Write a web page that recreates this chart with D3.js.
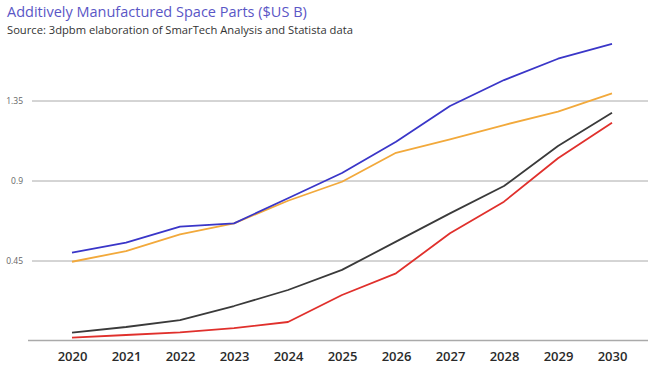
<!DOCTYPE html>
<html><head><meta charset="utf-8">
<script src="https://cdn.jsdelivr.net/npm/d3@7"></script>
<style>body{margin:0;background:#fff;}svg{display:block;}</style>
</head><body>
<script>
const years = [2020,2021,2022,2023,2024,2025,2026,2027,2028,2029,2030];
const blueSeries   = [0.494,0.55,0.64,0.659,0.80,0.942,1.118,1.319,1.465,1.585,1.668];
const orangeSeries = [0.443,0.503,0.597,0.659,0.786,0.893,1.056,1.132,1.212,1.287,1.39];
const blackSeries  = [0.044,0.076,0.115,0.194,0.284,0.397,0.556,0.715,0.869,1.094,1.281];
const redSeries    = [0.016,0.031,0.046,0.07,0.104,0.256,0.378,0.603,0.781,1.025,1.225];
const yTicks = [0.45,0.9,1.35];
const yTickLabels = ["0.45","0.9","1.35"];
const seriesList = [
  {name:"black", values:blackSeries, color:"#3a3a3a"},
  {name:"red", values:redSeries, color:"#e0302c"},
  {name:"orange", values:orangeSeries, color:"#f2a93b"},
  {name:"blue", values:blueSeries, color:"#3a36c8"}
];

const W=650,H=378;
const svg=d3.select("body").append("svg").attr("width",W).attr("height",H);
const x=d3.scalePoint().domain(years).range([72,612]);
const y=d3.scaleLinear().domain([0,1.35]).range([340.5,100.5]);

svg.append("text").attr("x",7).attr("y",16.5).text("Additively Manufactured Space Parts ($US B)")
  .attr("font-family","Open Sans, sans-serif").attr("font-size",14.5).attr("fill","#5a56c6");
svg.append("text").attr("x",7).attr("y",33.5).text("Source: 3dpbm elaboration of SmarTech Analysis and Statista data")
  .attr("font-family","Open Sans, sans-serif").attr("font-size",11.2).attr("fill","#333");

// gridlines
const yAxis=d3.axisLeft(y).tickValues(yTicks).tickSize(-(648-32)).tickFormat((d,i)=>yTickLabels[i]);
const gy=svg.append("g").attr("transform","translate(32,0)").call(yAxis);
gy.select(".domain").remove();
gy.selectAll(".tick line").attr("stroke","#aaa").attr("stroke-width",1);
gy.selectAll(".tick text").attr("x",-9).attr("font-family","Open Sans, sans-serif").attr("font-size",8.5).attr("fill","#666");

// baseline
svg.append("line").attr("x1",28).attr("x2",648).attr("y1",y(0)).attr("y2",y(0)).attr("stroke","#aaa").attr("stroke-width",1.5);

// x axis labels
const xAxis=d3.axisBottom(x).tickSize(0).tickPadding(0);
const gx=svg.append("g").attr("transform",`translate(0,${y(0)})`).call(xAxis);
gx.select(".domain").remove();
gx.selectAll(".tick text").attr("y",11.5).attr("font-family","Open Sans, sans-serif").attr("font-size",13).attr("font-weight",600).attr("fill","#2a2a2a");

const line=d3.line().x((d,i)=>x(years[i])).y(d=>y(d));
seriesList.forEach(s=>{
  svg.append("path").datum(s.values).attr("d",line).attr("fill","none")
    .attr("stroke",s.color).attr("stroke-width",1.8).attr("stroke-linejoin","round");
});
</script>
</body></html>
